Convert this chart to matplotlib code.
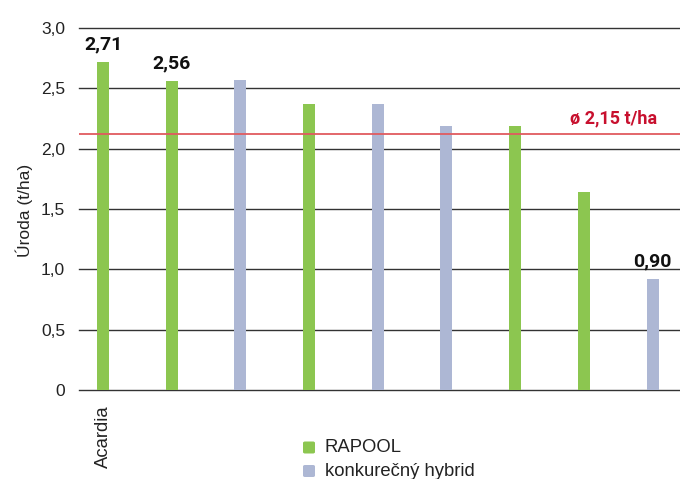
import matplotlib
matplotlib.use("Agg")
import matplotlib.pyplot as plt
from matplotlib.patches import FancyBboxPatch

# Data
categories = ["Acardia", "", "", "", "", "", "", "", ""]
values = [2.72, 2.56, 2.57, 2.37, 2.37, 2.19, 2.19, 1.64, 0.92]
series = ["RAPOOL", "RAPOOL", "konkurečný hybrid", "RAPOOL", "konkurečný hybrid",
          "konkurečný hybrid", "RAPOOL", "RAPOOL", "konkurečný hybrid"]
value_labels = ["2,71", "2,56", "", "", "", "", "", "", "0,90"]
average_value = 2.12
average_label = "ø 2,15 t/ha"
yticks = [0, 0.5, 1.0, 1.5, 2.0, 2.5, 3.0]
ytick_labels = ["0", "0,5", "1,0", "1,5", "2,0", "2,5", "3,0"]

colors = {"RAPOOL": "#8cc650", "konkurečný hybrid": "#adb7d4"}

W, H = 680, 479
fig = plt.figure(figsize=(W / 100, H / 100), dpi=100)
ax = fig.add_axes([79 / W, (479 - 390) / H, (680 - 79) / W, (390 - 28) / H])

x = list(range(len(values)))
bar_w = 0.175
ax.bar(x, values, width=bar_w, color=[colors[s] for s in series], zorder=3)

for yt in yticks:
    ax.axhline(yt, color="#333333", lw=1.0, zorder=1, clip_on=False)
ax.axhline(average_value, color="#e05a5f", lw=1.3, zorder=4)

ax.set_xlim(-0.35, 8.4)
ax.set_ylim(0, 3.0)
for s in ax.spines.values():
    s.set_visible(False)
ax.set_yticks(yticks)
ax.set_yticklabels(ytick_labels, fontsize=12.5, family="Liberation Sans", color="#222222")
ax.tick_params(axis="y", length=0, pad=10)
ax.set_xticks(x)
ax.set_xticklabels(categories, rotation=90, fontsize=13.3, family="Liberation Sans",
                   color="#222222", va="top")
ax.tick_params(axis="x", length=0, pad=11)

fig.text(24 / W, (H - 210) / H, "Úroda (t/ha)", rotation=90, fontsize=12.5,
         family="Liberation Sans", color="#222222", ha="center", va="center")

for xi, v, lab in zip(x, values, value_labels):
    if lab:
        ax.text(xi, v + 0.07, lab, ha="center", va="bottom", fontsize=14,
                fontweight="bold", family="Roboto", color="#111111")

ax.text(7.44, average_value + 0.06, average_label, ha="center", va="bottom",
        fontsize=13, fontweight="bold", family="Roboto", color="#c8102e")

# Legend
leg_items = [("RAPOOL", 447.5), ("konkurečný hybrid", 471)]
for name, py in leg_items:
    fig.patches.append(FancyBboxPatch((303 / W, (H - py - 6) / H), 12 / W, 12 / H,
                                      boxstyle="round,pad=0,rounding_size=0.003",
                                      transform=fig.transFigure,
                                      facecolor=colors[name], edgecolor="none"))
    fig.text(325 / W, (H - py) / H, name, fontsize=13.3, family="Liberation Sans",
             color="#222222", va="center", ha="left")

fig.savefig("out.png", dpi=100)
